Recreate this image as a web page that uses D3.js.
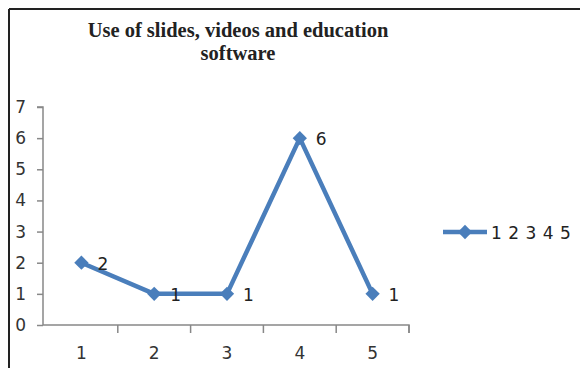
<!DOCTYPE html>
<html>
<head>
<meta charset="utf-8">
<script src="https://cdn.jsdelivr.net/npm/d3@7"></script>
<style>
  body { margin: 0; background: #fff; }
</style>
</head>
<body>
<div id="root"></div>
<script>
const categories = ["1", "2", "3", "4", "5"];
const values = [2, 1, 1, 6, 1];
const yTicks = [0, 1, 2, 3, 4, 5, 6, 7];
const titleLines = ["Use of slides, videos and education", "software"];
const legendLabel = "1 2 3 4 5";

const width = 580;
const height = 368;
const blue = "#4a7ebb";
const font = "'DejaVu Sans', Verdana, sans-serif";

const svg = d3
  .select("#root")
  .append("svg")
  .attr("width", width)
  .attr("height", height);

// frame (only top and left edges show in the crop)
svg.append("line").attr("x1", 9).attr("x2", width).attr("y1", 9).attr("y2", 9)
  .attr("stroke", "#222").attr("stroke-width", 2);
svg.append("line").attr("x1", 9).attr("x2", 9).attr("y1", 9).attr("y2", height)
  .attr("stroke", "#222").attr("stroke-width", 2);

svg
  .selectAll(".title")
  .data(titleLines)
  .enter()
  .append("text")
  .attr("class", "title")
  .attr("x", 238)
  .attr("y", (d, i) => 37 + i * 23)
  .attr("text-anchor", "middle")
  .style("font-family", "'Liberation Serif', 'Times New Roman', serif")
  .style("font-weight", "bold")
  .style("font-size", "20.5px")
  .style("fill", "#222")
  .text((d) => d);

const xScale = d3.scaleBand().domain(categories).range([45, 409]);
const yScale = d3.scaleLinear().domain([0, 7]).range([325, 107]);

const xAxis = svg
  .append("g")
  .attr("transform", "translate(0, 325)")
  .call(d3.axisBottom(xScale).tickSize(0).tickPadding(23));
xAxis.select(".domain").attr("stroke", "#888").attr("stroke-width", 1.5)
  .attr("d", "M43,0H409V8");
// boundary ticks between categories
xAxis
  .selectAll(".sep")
  .data(categories)
  .enter()
  .append("line")
  .attr("class", "sep")
  .attr("x1", (d) => xScale(d) + xScale.bandwidth())
  .attr("x2", (d) => xScale(d) + xScale.bandwidth())
  .attr("y1", 0)
  .attr("y2", 8)
  .attr("stroke", "#888")
  .attr("stroke-width", 1.5);

const yAxis = svg
  .append("g")
  .attr("transform", "translate(43, 0)")
  .call(
    d3.axisLeft(yScale).tickValues(yTicks).tickFormat(d3.format("d"))
      .tickSize(6).tickPadding(11)
  );
yAxis.select(".domain").attr("stroke", "#888").attr("stroke-width", 1.5)
  .attr("d", "M-6," + yScale(7) + "H0V" + yScale(0));
yAxis.selectAll(".tick line").attr("stroke", "#888").attr("stroke-width", 1.5);

svg.selectAll(".tick text")
  .style("font-family", font)
  .style("font-size", "17px")
  .style("fill", "#333");
xAxis.selectAll(".tick text").attr("dy", "0.71em").attr("y", 22);

const cx = (d, i) => xScale(categories[i]) + xScale.bandwidth() / 2;

const line = d3
  .line()
  .x((d, i) => cx(d, i))
  .y((d) => yScale(d));

svg
  .append("path")
  .datum(values)
  .attr("d", line)
  .attr("fill", "none")
  .attr("stroke", blue)
  .attr("stroke-width", 4.5)
  .attr("stroke-linejoin", "round");

const diamond = d3.symbol().type(d3.symbolDiamond2).size(130);

svg
  .selectAll(".marker")
  .data(values)
  .enter()
  .append("path")
  .attr("class", "marker")
  .attr("d", diamond)
  .attr("transform", (d, i) => `translate(${cx(d, i)}, ${yScale(d)})`)
  .attr("fill", blue);

svg
  .selectAll(".label")
  .data(values)
  .enter()
  .append("text")
  .attr("class", "label")
  .attr("x", (d, i) => cx(d, i) + 16)
  .attr("y", (d) => yScale(d) + 7)
  .style("font-family", font)
  .style("font-size", "17px")
  .style("fill", "#222")
  .text((d) => d);

// legend
const lg = svg.append("g").attr("transform", "translate(443, 232)");
lg.append("line").attr("x1", 0).attr("x2", 44).attr("y1", 0).attr("y2", 0)
  .attr("stroke", blue).attr("stroke-width", 4.5);
lg.append("path").attr("d", diamond).attr("transform", "translate(22, 0)")
  .attr("fill", blue);
lg.append("text")
  .attr("x", 48)
  .attr("y", 7)
  .style("font-family", font)
  .style("font-size", "17px")
  .style("letter-spacing", "0.5px")
  .style("fill", "#222")
  .text(legendLabel);
</script>
</body>
</html>
